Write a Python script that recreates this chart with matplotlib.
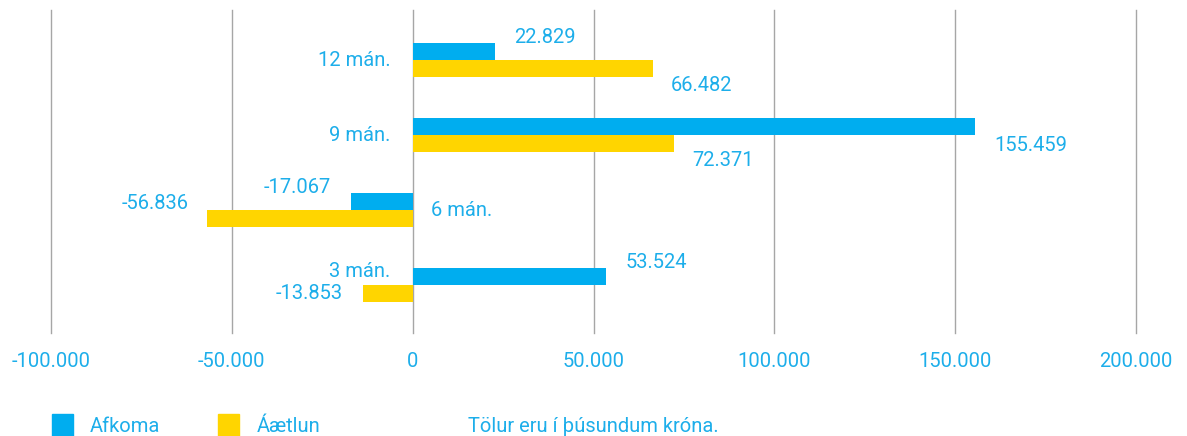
import numpy as np
import matplotlib
matplotlib.use("Agg")
import matplotlib.pyplot as plt
from matplotlib.patches import Rectangle

# -----------------------------
# Data (þúsundir króna)
# -----------------------------
periods = ["3 mán.", "6 mán.", "9 mán.", "12 mán."]
afkoma = [53524, -17067, 155459, 22829]
aaetlun = [-13853, -56836, 72371, 66482]
x_ticks = [-100000, -50000, 0, 50000, 100000, 150000, 200000]
x_tick_labels = ["-100.000", "-50.000", "0", "50.000", "100.000", "150.000", "200.000"]

# label offsets in pixels (dx from bar end, dy from bar centre)
afk_off = [(19, 14), (-20, 14), (19, -19), (19, 14)]
aae_off = [(-20, 0), (-18, 15), (18, -17), (18, -17)]
cat_off = [(-22, 14), (18, 0), (-22, 0), (-22, 0)]

BLUE = "#00adef"
YELLOW = "#ffd500"
TXT = "#1daeea"
GRID = "#a6a6a6"

plt.rcParams["font.family"] = ["Roboto", "DejaVu Sans"]
FS = 14.5


def fmt(v):
    s = f"{abs(v):,}".replace(",", ".")
    return "-" + s if v < 0 else s


fig = plt.figure(figsize=(11.87, 4.36), dpi=100)
ax = fig.add_axes([51 / 1187, 103 / 436, 1085 / 1187, 323 / 436])

y = np.arange(len(periods))
h = 0.227
ax.barh(y + h / 2, afkoma, height=h, color=BLUE, zorder=3)
ax.barh(y - h / 2, aaetlun, height=h, color=YELLOW, zorder=3)

ax.set_xlim(-100000, 200000)
ax.set_ylim(-0.64, 3.667)
ax.set_xticks(x_ticks)
ax.set_xticklabels(x_tick_labels, color=TXT, fontsize=FS)
ax.tick_params(axis="x", length=0, pad=14)
ax.set_yticks([])
for s in ax.spines.values():
    s.set_visible(False)
for xv in x_ticks:
    ax.axvline(xv, color=GRID, linewidth=1, zorder=1, clip_on=False)


def put(xv, yv, off, txt):
    ha = "left" if off[0] > 0 else "right"
    ax.annotate(txt, (xv, yv), xytext=off, textcoords="offset pixels",
                ha=ha, va="center", color=TXT, fontsize=FS, zorder=4)


for i in range(len(periods)):
    put(afkoma[i], y[i] + h / 2, afk_off[i], fmt(afkoma[i]))
    put(aaetlun[i], y[i] - h / 2, aae_off[i], fmt(aaetlun[i]))
    put(0, y[i], cat_off[i], periods[i])

# legend along the bottom
fig.patches.append(Rectangle((52 / 1187, 0), 21 / 1187, 22 / 436,
                             transform=fig.transFigure, color=BLUE))
fig.patches.append(Rectangle((218 / 1187, 0), 21 / 1187, 22 / 436,
                             transform=fig.transFigure, color=YELLOW))
fig.text(90 / 1187, 10 / 436, "Afkoma", color=TXT, fontsize=FS, va="center")
fig.text(257 / 1187, 10 / 436, "Áætlun", color=TXT, fontsize=FS, va="center")
fig.text(468 / 1187, 10 / 436, "Tölur eru í þúsundum króna.", color=TXT,
         fontsize=FS, va="center")

fig.savefig("out.png", dpi=100)
